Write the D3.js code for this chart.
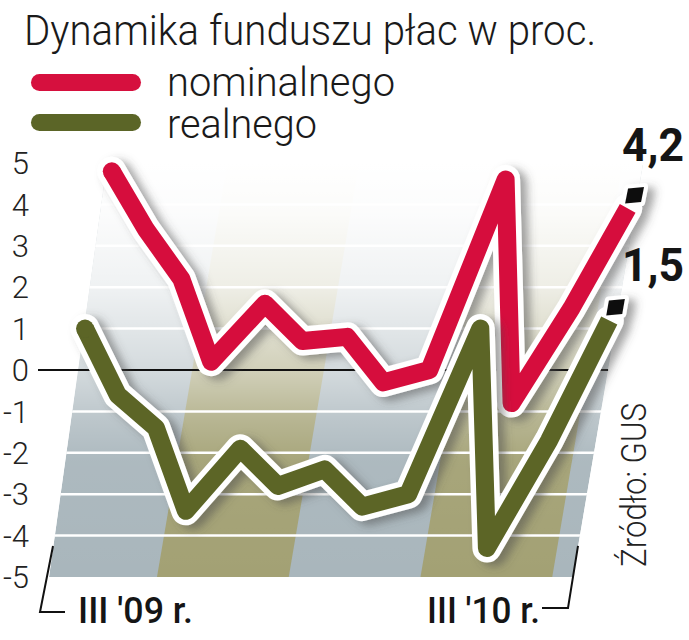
<!DOCTYPE html>
<html><head><meta charset="utf-8">
<script src="https://cdn.jsdelivr.net/npm/d3@7"></script>
<style>body{margin:0;background:#fff}svg{display:block}</style>
</head><body>
<script>
// ---- data ----
const months = ["III '09","IV","V","VI","VII","VIII","IX","X","XI","XII","I '10","II","III '10"];
const nominal = [4.8, 3.4, 2.2, 0.2, 1.6, 0.7, 0.8, -0.3, 0.0, 4.6, -0.8, 1.5, 4.2];
const real    = [1.0, -0.6, -1.4, -3.4, -1.9, -2.8, -2.4, -3.3, -3.0, 1.0, -4.3, -1.7, 1.5];
const yTicks = [5, 4, 3, 2, 1, 0, -1, -2, -3, -4, -5];
const xTickLabels = ["III '09 r.", "III '10 r."];
const endLabels = ["4,2", "1,5"];
const seriesNames = ["nominalnego", "realnego"];
const seriesColors = ["#d6103e", "#5b6527"];
const bandRanges = [[2.6, 5.6], [8.6, 11.6]];
const title = "Dynamika funduszu płac w proc.";
const source = "Źródło: GUS";

// ---- setup ----
const W = 689, H = 640;
const svg = d3.select("body").append("svg").attr("width", W).attr("height", H)
  .style("font-family", "Roboto, 'Noto Sans', sans-serif");

const y = d3.scaleLinear().domain([-5, 5]).range([577, 163]);
const x = d3.scaleLinear().domain([0, months.length - 1]).range([78, 605]);
const shear = 0.17;      // perspective slant of data / bands
const shearL = 0.14;     // slant of left edge of the floor
const sx = (i, v) => x(i) + shear * (y(0) - y(v));
const leftEdge = v => x(0) + shearL * (y(0) - y(v));
const rightEdge = v => x(12.07) + shear * (y(0) - y(v));

const defs = svg.append("defs");
const f = defs.append("filter").attr("id", "sh").attr("x", "-20%").attr("y", "-20%")
  .attr("width", "150%").attr("height", "150%");
f.append("feDropShadow").attr("dx", 7).attr("dy", 4).attr("stdDeviation", 4.5)
  .attr("flood-color", "#4a4a4a").attr("flood-opacity", 0.5);

const fade = defs.append("linearGradient").attr("id", "fade")
  .attr("gradientUnits", "userSpaceOnUse").attr("x1", 0).attr("x2", 0)
  .attr("y1", y(5)).attr("y2", y(-5));
[[0, 1], [0.12, 0.96], [0.3, 0.82], [0.5, 0.5], [0.62, 0.22], [0.72, 0.05], [1, 0]]
  .forEach(([o, a]) => fade.append("stop").attr("offset", o).attr("stop-color", "#fff").attr("stop-opacity", a));

const floorPts = [[leftEdge(-5), y(-5)], [rightEdge(-5), y(-5)], [rightEdge(5), y(5)], [leftEdge(5), y(5)]];
defs.append("clipPath").attr("id", "floorClip").append("polygon").attr("points", floorPts.join(" "));

// ---- floor ----
const floor = svg.append("g").attr("clip-path", "url(#floorClip)");
floor.append("polygon").attr("points", floorPts.join(" ")).attr("fill", "#a9b6bc");
bandRanges.forEach(([a, b]) => {
  const pts = [[sx(a, -5), y(-5)], [sx(b, -5), y(-5)], [sx(b, 5), y(5)], [sx(a, 5), y(5)]];
  floor.append("polygon").attr("points", pts.join(" ")).attr("fill", "#a3a174");
});
yTicks.filter(v => v !== 0 && v > -5 && v < 5).forEach(v => {
  floor.append("line").attr("x1", leftEdge(v) - 5).attr("x2", rightEdge(v) + 5)
    .attr("y1", y(v)).attr("y2", y(v)).attr("stroke", "#fff").attr("stroke-width", 2.5);
});
floor.append("rect").attr("x", 0).attr("y", y(5)).attr("width", W).attr("height", y(-5) - y(5))
  .attr("fill", "url(#fade)");

// zero line
svg.append("line").attr("x1", 38).attr("x2", rightEdge(0)).attr("y1", y(0)).attr("y2", y(0))
  .attr("stroke", "#111").attr("stroke-width", 2);

// ---- y axis labels ----
svg.append("g").selectAll("text").data(yTicks).join("text")
  .attr("x", 29).attr("y", d => y(d)).attr("dy", "0.36em")
  .attr("text-anchor", "end").attr("font-size", 31).attr("font-weight", 300)
  .attr("fill", "#222").text(d => d);

// ---- lines ----
function drawSeries(vals, color, label, labelY) {
  const pts = vals.map((v, i) => [sx(i, v), y(v)]);
  const P = pts[pts.length - 1], Q = pts[pts.length - 2];
  const len = Math.hypot(P[0] - Q[0], P[1] - Q[1]);
  const ux = (P[0] - Q[0]) / len, uy = (P[1] - Q[1]) / len;
  const linePts = pts.slice(0, -1).concat([[P[0] - ux * 14, P[1] - uy * 14]]);
  const line = d3.line();
  const g = svg.append("g").attr("filter", "url(#sh)");
  g.append("path").attr("d", line(linePts)).attr("fill", "none").attr("stroke", "#fff")
    .attr("stroke-width", 29).attr("stroke-linejoin", "round").attr("stroke-linecap", "round");
  // marker
  const a = 0.35 * ux / (-uy), hw = 8, hh = 7.5;
  const mk = [[P[0] - hw + a * hh, P[1] - hh], [P[0] + hw + a * hh, P[1] - hh - 1.5],
              [P[0] + hw - a * hh, P[1] + hh - 1.5], [P[0] - hw - a * hh, P[1] + hh]];
  g.append("polygon").attr("points", mk.join(" ")).attr("fill", "#fff")
    .attr("stroke", "#fff").attr("stroke-width", 8).attr("stroke-linejoin", "round");
  g.append("path").attr("d", line(linePts)).attr("fill", "none").attr("stroke", color)
    .attr("stroke-width", 18).attr("stroke-linejoin", "round").attr("stroke-linecap", "butt");
  g.append("circle").attr("cx", pts[0][0]).attr("cy", pts[0][1]).attr("r", 9).attr("fill", color);
  g.append("polygon").attr("points", mk.join(" ")).attr("fill", "#111");
  svg.append("text").attr("x", 622).attr("y", labelY).attr("font-size", 47).attr("font-weight", 700)
    .attr("fill", "#151515").attr("textLength", 62).attr("lengthAdjust", "spacingAndGlyphs").text(label);
}
drawSeries(nominal, seriesColors[0], endLabels[0], 161);
drawSeries(real, seriesColors[1], endLabels[1], 281);

// ---- x axis labels and brackets ----
svg.append("path").attr("d", `M${x(0) - 25},${y(-4.25)}L${x(0) - 38},${y(-5) + 35}L${x(0) - 13},${y(-5) + 35}`)
  .attr("fill", "none").attr("stroke", "#111").attr("stroke-width", 2);
svg.append("path").attr("d", `M${x(12) - 27},${y(-4.25)}L${x(12) - 37},${y(-5) + 31}L${x(12) - 63},${y(-5) + 31}`)
  .attr("fill", "none").attr("stroke", "#111").attr("stroke-width", 2);
svg.append("text").attr("x", x(0)).attr("y", 623).attr("font-size", 36).attr("font-weight", 500)
  .attr("fill", "#151515").attr("textLength", 115).attr("lengthAdjust", "spacingAndGlyphs").text(xTickLabels[0]);
svg.append("text").attr("x", x(12) - 178).attr("y", 623).attr("font-size", 36).attr("font-weight", 500)
  .attr("fill", "#151515").attr("textLength", 113).attr("lengthAdjust", "spacingAndGlyphs").text(xTickLabels[1]);

// ---- source ----
svg.append("text").attr("transform", "translate(646,567) rotate(-90)")
  .attr("font-size", 35).attr("font-weight", 300).attr("fill", "#222")
  .attr("textLength", 164).attr("lengthAdjust", "spacingAndGlyphs").text(source);

// ---- title & legend ----
svg.append("text").attr("x", 24).attr("y", 45).attr("font-size", 42).attr("font-weight", 300)
  .attr("fill", "#1a1a1a").attr("textLength", 572).attr("lengthAdjust", "spacingAndGlyphs").text(title);
const legY = [82.5, 122.5], legBase = [96, 138], legW = [228, 150];
seriesNames.forEach((n, i) => {
  svg.append("line").attr("x1", 39.5).attr("x2", 132.5).attr("y1", legY[i]).attr("y2", legY[i])
    .attr("stroke", seriesColors[i]).attr("stroke-width", 17).attr("stroke-linecap", "round");
  svg.append("text").attr("x", 167).attr("y", legBase[i]).attr("font-size", 40).attr("font-weight", 300)
    .attr("fill", "#1a1a1a").attr("textLength", legW[i]).attr("lengthAdjust", "spacingAndGlyphs").text(n);
});
</script>
</body></html>
